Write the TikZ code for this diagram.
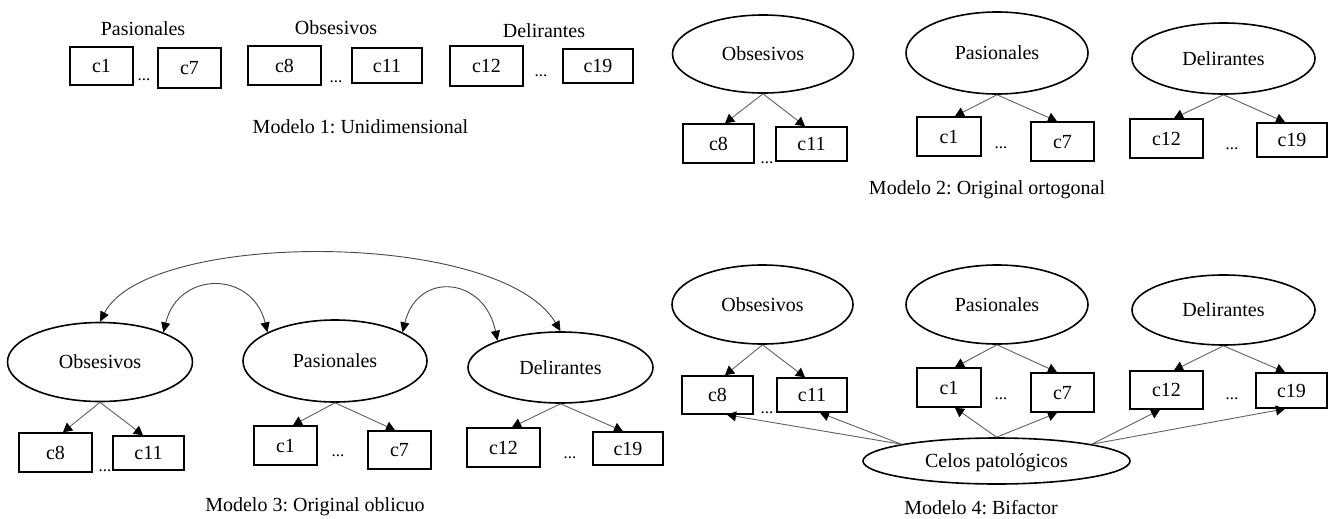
\documentclass[tikz,border=0pt]{standalone}
\usepackage{fontspec}
\setmainfont{Liberation Serif}
\usetikzlibrary{shapes.geometric,arrows.meta}
\frenchspacing
\begin{document}
\begin{tikzpicture}[x=1pt,y=-1pt,
  every node/.style={font=\fontsize{20}{24}\selectfont,text height=13.5pt,text depth=0pt},
  box/.style={draw=black,line width=1.6pt,rectangle,inner sep=0pt},
  latent/.style={draw=black,line width=1.6pt,ellipse,inner sep=0pt},
  load/.style={draw=black!62,line width=0.9pt,-{Triangle[length=9pt,width=10pt,color=black]}},
  corr/.style={draw=black!72,line width=0.9pt,{Triangle[length=10pt,width=9pt,color=black]}-{Triangle[length=10pt,width=9pt,color=black]}},
  ddd/.style={inner sep=0pt,font=\fontsize{17}{18}\selectfont,text height=2pt,text depth=0pt},
  modlabel/.style={inner sep=0pt}]
\fill[white] (0,0) rectangle (1331,519);
\useasboundingbox (0,0) rectangle (1331,519);

% ---------------- Modelo 1 ----------------
\node[modlabel] (m1lP) at (143,29) {Pasionales};
\node[modlabel] (m1lO) at (336,28) {Obsesivos};
\node[modlabel] (m1lD) at (544,31) {Delirantes};
\node[box,minimum width=63pt,minimum height=38pt] (m1c1) at (101.5,66) {c1};
\node[box,minimum width=63pt,minimum height=40pt] (m1c7) at (189.5,68) {c7};
\node[box,minimum width=73pt,minimum height=39pt] (m1c8) at (284.5,65.5) {c8};
\node[box,minimum width=70pt,minimum height=35pt] (m1c11) at (387,65.5) {c11};
\node[box,minimum width=73pt,minimum height=40pt] (m1c12) at (486.5,66) {c12};
\node[box,minimum width=70pt,minimum height=34pt] (m1c19) at (598,66) {c19};
\node[ddd] (m1d1) at (144,80) {...};
\node[ddd] (m1d2) at (336,82) {...};
\node[ddd] (m1d3) at (541,76) {...};
\node[modlabel] (m1cap) at (360.5,127) {Modelo 1: Unidimensional};

% ---------------- Modelo 2 ----------------
\node[latent,minimum width=181pt,minimum height=78pt] (m2O) at (763,54) {Obsesivos};
\node[latent,minimum width=182pt,minimum height=82pt] (m2P) at (997,53) {Pasionales};
\node[latent,minimum width=183pt,minimum height=71pt] (m2D) at (1223.5,58.5) {Delirantes};
\node[box,minimum width=71pt,minimum height=39pt] (m2c8) at (718.5,143.5) {c8};
\node[box,minimum width=71pt,minimum height=34pt] (m2c11) at (811.5,144) {c11};
\node[box,minimum width=64pt,minimum height=39pt] (m2c1) at (949,136.5) {c1};
\node[box,minimum width=63pt,minimum height=39pt] (m2c7) at (1062.5,141.5) {c7};
\node[box,minimum width=73pt,minimum height=39pt] (m2c12) at (1166.5,138.5) {c12};
\node[box,minimum width=70pt,minimum height=34pt] (m2c19) at (1292,140) {c19};
\node[ddd] (m2d1) at (767,162) {...};
\node[ddd] (m2d2) at (1001,147) {...};
\node[ddd] (m2d3) at (1232,148) {...};
\node[modlabel] (m2cap) at (987,188) {Modelo 2: Original ortogonal};
\draw[load] (m2O.south) -- ([xshift=6.5pt]m2c8.north);
\draw[load] (m2O.south) -- ([xshift=-6.5pt]m2c11.north);
\draw[load] (m2P.south) -- ([xshift=6pt]m2c1.north);
\draw[load] (m2P.south) -- ([xshift=-5.5pt]m2c7.north);
\draw[load] (m2D.south) -- ([xshift=7.5pt]m2c12.north);
\draw[load] (m2D.south) -- ([xshift=-7pt]m2c19.north);

% ---------------- Modelo 3 ----------------
\node[latent,minimum width=185pt,minimum height=79pt] (m3O) at (100,362) {Obsesivos};
\node[latent,minimum width=184pt,minimum height=82pt] (m3P) at (335,361) {Pasionales};
\node[latent,minimum width=185pt,minimum height=71pt] (m3D) at (560.5,367.5) {Delirantes};
\node[box,minimum width=73pt,minimum height=39pt] (m3c8) at (55.5,452.5) {c8};
\node[box,minimum width=71pt,minimum height=34pt] (m3c11) at (148.5,453) {c11};
\node[box,minimum width=63pt,minimum height=39pt] (m3c1) at (285.5,445.5) {c1};
\node[box,minimum width=63pt,minimum height=38pt] (m3c7) at (399.5,450) {c7};
\node[box,minimum width=73pt,minimum height=39pt] (m3c12) at (503.5,447.5) {c12};
\node[box,minimum width=70pt,minimum height=33pt] (m3c19) at (628,448.5) {c19};
\node[ddd] (m3d1) at (105,470) {...};
\node[ddd] (m3d2) at (338,455) {...};
\node[ddd] (m3d3) at (570,457) {...};
\node[modlabel] (m3cap) at (315,505) {Modelo 3: Original oblicuo};
\draw[load] (m3O.south) -- ([xshift=7.5pt]m3c8.north);
\draw[load] (m3O.south) -- ([xshift=-5.5pt]m3c11.north);
\draw[load] (m3P.south) -- ([xshift=7.5pt]m3c1.north);
\draw[load] (m3P.south) -- ([xshift=-4.5pt]m3c7.north);
\draw[load] (m3D.south) -- ([xshift=8.5pt]m3c12.north);
\draw[load] (m3D.south) -- ([xshift=-5pt]m3c19.north);
\draw[corr] (m3O.north) .. controls +(47,-92) and +(-60,-102) .. (m3D.north);
\draw[corr] (m3O.25) .. controls +(15,-62) and +(-15,-62) .. (m3P.157);
\draw[corr] (m3P.23) .. controls +(15,-62) and +(-13,-64) .. (m3D.157);

% ---------------- Modelo 4 ----------------
\node[latent,minimum width=181pt,minimum height=79pt] (m4O) at (762.5,304.5) {Obsesivos};
\node[latent,minimum width=182pt,minimum height=79pt] (m4P) at (997,304.5) {Pasionales};
\node[latent,minimum width=183pt,minimum height=70pt] (m4D) at (1223.5,310) {Delirantes};
\node[latent,minimum width=267pt,minimum height=46pt] (m4C) at (996.5,461) {Celos patológicos};
\node[box,minimum width=71pt,minimum height=38pt] (m4c8) at (717.5,395) {c8};
\node[box,minimum width=70pt,minimum height=34pt] (m4c11) at (812,395) {c11};
\node[box,minimum width=64pt,minimum height=39pt] (m4c1) at (949,387.5) {c1};
\node[box,minimum width=63pt,minimum height=39pt] (m4c7) at (1062.5,392.5) {c7};
\node[box,minimum width=73pt,minimum height=38pt] (m4c12) at (1166.5,390) {c12};
\node[box,minimum width=71pt,minimum height=35pt] (m4c19) at (1291.5,390.5) {c19};
\node[ddd] (m4d1) at (767,412) {...};
\node[ddd] (m4d2) at (1001,398) {...};
\node[ddd] (m4d3) at (1232,398) {...};
\node[modlabel] (m4cap) at (981,508) {Modelo 4: Bifactor};
\draw[load] (m4O.south) -- ([xshift=7.5pt]m4c8.north);
\draw[load] (m4O.south) -- ([xshift=-7pt]m4c11.north);
\draw[load] (m4P.south) -- ([xshift=6pt]m4c1.north);
\draw[load] (m4P.south) -- ([xshift=-5.5pt]m4c7.north);
\draw[load] (m4D.south) -- ([xshift=7.5pt]m4c12.north);
\draw[load] (m4D.south) -- ([xshift=-6.5pt]m4c19.north);
\draw[load] (m4C.170) -- ([xshift=9.5pt]m4c8.south);
\draw[load] (m4C.170) -- ([xshift=8pt]m4c11.south);
\draw[load] (m4C.north) -- ([xshift=6pt]m4c1.south);
\draw[load] (m4C.north) -- ([xshift=-5.5pt]m4c7.south);
\draw[load] (m4C.10) -- ([xshift=-6.5pt]m4c12.south);
\draw[load] (m4C.10) -- ([xshift=-6.5pt]m4c19.south);
\end{tikzpicture}
\end{document}
